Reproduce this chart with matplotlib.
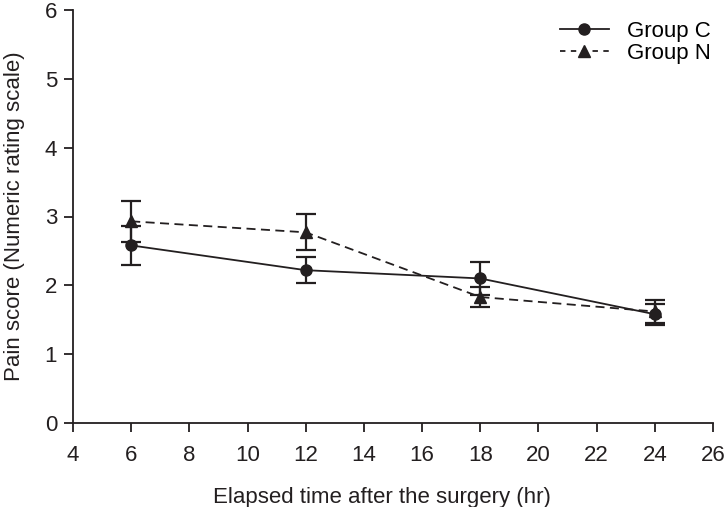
import matplotlib
matplotlib.use('Agg')
import matplotlib.pyplot as plt
from matplotlib.lines import Line2D

plt.rcParams['font.family'] = ['Liberation Sans', 'DejaVu Sans']

# data
hours = [6, 12, 18, 24]
group_c = [2.58, 2.22, 2.10, 1.58]
group_c_err = [0.28, 0.19, 0.24, 0.15]
group_n = [2.93, 2.77, 1.83, 1.62]
group_n_err = [0.30, 0.26, 0.14, 0.16]

fig = plt.figure(figsize=(7.28, 5.07), dpi=100)
ax = fig.add_axes([73/728, 1 - 423/507, (713 - 73)/728, (423 - 10)/507])

col = '#231f20'
ax.errorbar(hours, group_c, yerr=group_c_err, color=col, marker='o', markersize=8,
            linewidth=1.3, elinewidth=1.6, capsize=7, capthick=1.6)
ax.errorbar(hours, group_n, yerr=group_n_err, color=col, marker='^', markersize=8,
            linewidth=1.3, linestyle='--', dashes=(5, 3), elinewidth=1.6, capsize=7,
            capthick=1.6)

ax.set_xlim(4, 26)
ax.set_ylim(0, 6)
ax.set_xticks(range(4, 27, 2))
ax.set_yticks(range(0, 7))
ax.spines['top'].set_visible(False)
ax.spines['right'].set_visible(False)
for s in ['left', 'bottom']:
    ax.spines[s].set_color(col)
    ax.spines[s].set_linewidth(1.3)
ax.tick_params(direction='out', length=6.5, width=1.3, color=col, labelsize=16, labelcolor=col)
ax.tick_params(axis='x', pad=9)
ax.tick_params(axis='y', pad=5)

ax.set_xlabel('Elapsed time after the surgery (hr)', fontsize=16, color=col, labelpad=12)
ax.xaxis.set_label_coords(0.483, -0.155)
ax.set_ylabel('Pain score (Numeric rating scale)', fontsize=16, color=col, labelpad=14)

handles = [Line2D([], [], color=col, marker='o', markersize=8, linewidth=1.3),
           Line2D([], [], color=col, marker='^', markersize=8, linewidth=1.3,
                  linestyle='--', dashes=(3, 3))]
ax.legend(handles, ['Group C', 'Group N'], loc='upper right', frameon=False,
          fontsize=16, handlelength=2.2, handletextpad=0.8, borderaxespad=0,
          labelspacing=0.05, bbox_to_anchor=(1.01, 0.995))

plt.savefig('out.png', dpi=100)
